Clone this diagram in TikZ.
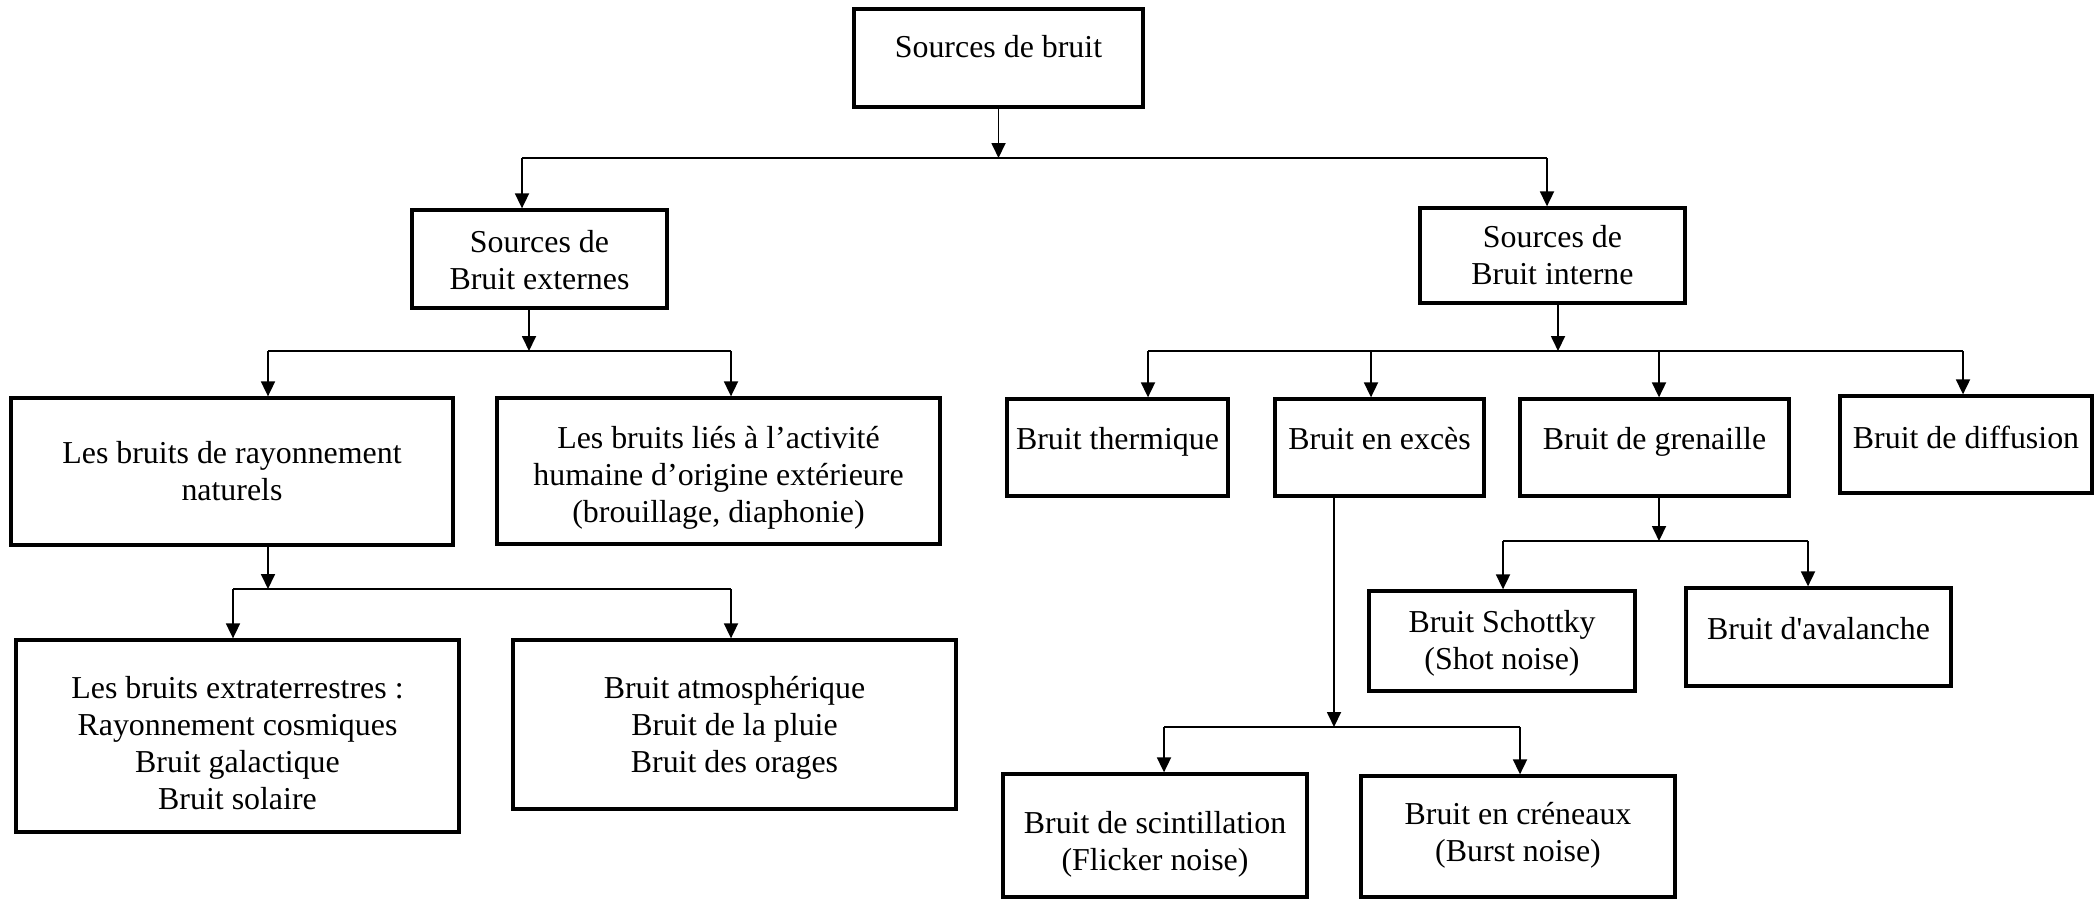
\documentclass[tikz,border=0pt]{standalone}
\usepackage{fontspec}
\setmainfont{Liberation Serif}
\usetikzlibrary{arrows.meta}
\newcommand\up[2]{\raisebox{#1}[\height][\depth]{#2}}
\begin{document}
\begin{tikzpicture}[x=1pt,y=-1pt,
  box/.style={draw=black, line width=3.3pt, rectangle, align=center, inner sep=0pt,
    font=\fontsize{31.9}{37}\selectfont},
  conn/.style={line width=1.8pt, -{Triangle[length=15pt,width=14pt]}},
  bus/.style={line width=1.6pt}
]
\useasboundingbox (0,0) rectangle (2100,900);

% boxes
\node[box, minimum width=289pt, minimum height=98pt] (A) at (998.5,58) {\up{11pt}{Sources de bruit}};
\node[box, minimum width=255pt, minimum height=98pt] (B) at (539.5,259) {\up{-1pt}{Sources de}\\\up{-1pt}{Bruit externes}};
\node[box, minimum width=265pt, minimum height=95pt] (C) at (1552.5,255.5) {Sources de\\Bruit interne};
\node[box, minimum width=442pt, minimum height=147pt] (D) at (232,471.5) {Les bruits de rayonnement\\naturels};
\node[box, minimum width=443pt, minimum height=146pt] (E) at (718.5,471) {\up{-7pt}{Les bruits liés à l’activité}\\\up{-7pt}{humaine d’origine extérieure}\\\up{-7pt}{(brouillage, diaphonie)}};
\node[box, minimum width=443pt, minimum height=192pt] (F) at (237.5,736) {\up{-7pt}{Les bruits extraterrestres :}\\\up{-7pt}{Rayonnement cosmiques}\\\up{-7pt}{Bruit galactique}\\\up{-7pt}{Bruit solaire}};
\node[box, minimum width=443pt, minimum height=169pt] (G) at (734.5,724.5) {\up{-3.5pt}{Bruit atmosphérique}\\\up{-3.5pt}{Bruit de la pluie}\\\up{-3.5pt}{Bruit des orages}};
\node[box, minimum width=221pt, minimum height=97pt] (H) at (1117.5,447.5) {\up{5.5pt}{Bruit thermique}};
\node[box, minimum width=209pt, minimum height=97pt] (I) at (1379.5,447.5) {\up{8.5pt}{Bruit en excès}};
\node[box, minimum width=269pt, minimum height=97pt] (J) at (1654.5,447.5) {\up{5.5pt}{Bruit de grenaille}};
\node[box, minimum width=252pt, minimum height=97pt] (K) at (1966,444.5) {\up{7pt}{Bruit de diffusion}};
\node[box, minimum width=266pt, minimum height=100pt] (L) at (1502,641) {\up{-2.5pt}{Bruit Schottky}\\\up{-2.5pt}{(Shot noise)}};
\node[box, minimum width=265pt, minimum height=98pt] (M) at (1818.5,637) {\up{8.6pt}{Bruit d\textquotesingle avalanche}};
\node[box, minimum width=304pt, minimum height=123pt] (N) at (1155,835.5) {\up{-9pt}{Bruit de scintillation}\\\up{-9pt}{(Flicker noise)}};
\node[box, minimum width=314pt, minimum height=121pt] (O) at (1518,836.5) {\up{1pt}{Bruit en créneaux}\\\up{1pt}{(Burst noise)}};

% bus coordinates
\coordinate (pA) at (998.5,158);
\coordinate (pAL) at (522,158);
\coordinate (pAR) at (1547,158);
\coordinate (pB) at (529,351);
\coordinate (pBL) at (268,351);
\coordinate (pBR) at (731,351);
\coordinate (pD) at (268,589);
\coordinate (pDL) at (233,589);
\coordinate (pDR) at (731,589);
\coordinate (pC) at (1558,351);
\coordinate (pC1) at (1148,351);
\coordinate (pC2) at (1371,351);
\coordinate (pC3) at (1659,351);
\coordinate (pC4) at (1963,351);
\coordinate (pJ) at (1659,541);
\coordinate (pJL) at (1503,541);
\coordinate (pJR) at (1808,541);
\coordinate (pI) at (1334,727);
\coordinate (pIL) at (1164,727);
\coordinate (pIR) at (1520,727);

% level 1
\draw[conn] (A.south) -- (pA);
\draw[bus] (pAL) -- (pAR);
\draw[conn] (pAL) -- (pAL |- B.north);
\draw[conn] (pAR) -- (pAR |- C.north);
% externes
\draw[conn] (pB |- B.south) -- (pB);
\draw[bus] (pBL) -- (pBR);
\draw[conn] (pBL) -- (pBL |- D.north);
\draw[conn] (pBR) -- (pBR |- E.north);
% rayonnement
\draw[conn] (pD |- D.south) -- (pD);
\draw[bus] (pDL) -- (pDR);
\draw[conn] (pDL) -- (pDL |- F.north);
\draw[conn] (pDR) -- (pDR |- G.north);
% interne
\draw[conn] (pC |- C.south) -- (pC);
\draw[bus] (pC1) -- (pC4);
\draw[conn] (pC1) -- (pC1 |- H.north);
\draw[conn] (pC2) -- (pC2 |- I.north);
\draw[conn] (pC3) -- (pC3 |- J.north);
\draw[conn] (pC4) -- (pC4 |- K.north);
% grenaille
\draw[conn] (pJ |- J.south) -- (pJ);
\draw[bus] (pJL) -- (pJR);
\draw[conn] (pJL) -- (pJL |- L.north);
\draw[conn] (pJR) -- (pJR |- M.north);
% exces
\draw[conn] (pI |- I.south) -- (pI);
\draw[bus] (pIL) -- (pIR);
\draw[conn] (pIL) -- (pIL |- N.north);
\draw[conn] (pIR) -- (pIR |- O.north);
\end{tikzpicture}
\end{document}
